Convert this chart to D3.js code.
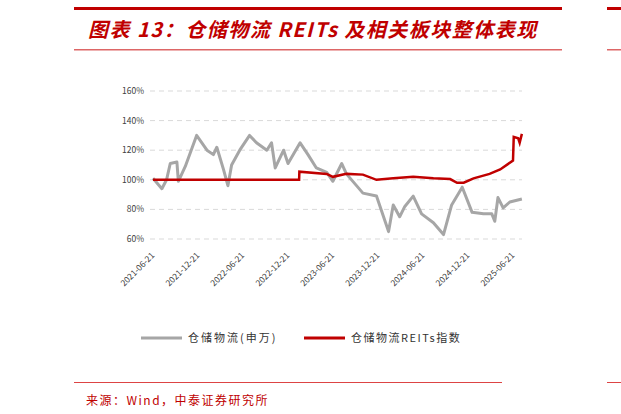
<!DOCTYPE html>
<html><head><meta charset="utf-8">
<script src="https://cdn.jsdelivr.net/npm/d3@7"></script>
<style>body{margin:0;background:#fff}text{font-family:"Noto Sans CJK SC","Liberation Sans",sans-serif}</style>
</head><body><svg id="c" width="621" height="414"></svg>
<script>
// gray series: 仓储物流(申万)
var grayDates = ["2021-06-21","2021-07-27","2021-08-15","2021-08-30","2021-09-26","2021-10-02","2021-10-30","2021-12-15","2022-01-26","2022-02-21","2022-03-07","2022-04-03","2022-04-21","2022-05-06","2022-06-08","2022-07-18","2022-08-15","2022-09-26","2022-10-15","2022-10-30","2022-12-03","2022-12-21","2023-02-08","2023-03-12","2023-04-15","2023-05-27","2023-06-21","2023-07-27","2023-08-15","2023-10-21","2023-12-15","2024-02-02","2024-02-21","2024-03-18","2024-04-08","2024-05-12","2024-06-15","2024-08-02","2024-09-12","2024-10-15","2024-11-27","2025-01-06","2025-02-21","2025-03-27","2025-04-08","2025-04-21","2025-05-12","2025-06-08","2025-07-27"];
var grayVals = [101,94,100,111,112,99,109,130,120,117,122,107,96,110,120,130,125,120,125,108,120,111,125,117,108,105,99,111,104,91,89,65,83,75,82,89,77,71,63,83,95,78,77,77,72,88,81,85,87];
// red series: 仓储物流REITs指数
var redDates = ["2021-06-21","2023-02-04","2023-02-05","2023-05-27","2023-06-21","2023-08-15","2023-10-21","2023-12-15","2024-02-21","2024-05-12","2024-08-02","2024-10-09","2024-11-06","2024-12-03","2025-01-12","2025-03-18","2025-04-30","2025-06-21","2025-06-24","2025-07-12","2025-07-18","2025-07-27"];
var redVals = [100,100,105.5,104,102,104,103.5,100,101,102,101,100.5,98,98,101,104,107,113,129,128,125,131];
var yTicks = [60,80,100,120,140,160];
var xTicks = ["2021-06-21","2021-12-21","2022-06-21","2022-12-21","2023-06-21","2023-12-21","2024-06-21","2024-12-21","2025-06-21"];

var svg = d3.select("#c"), red = "#c00000", pt = d3.timeParse("%Y-%m-%d");
var x = d3.scaleTime().domain([pt("2021-06-21"), pt("2025-06-21")]).range([153, 513]);
var y = d3.scaleLinear().domain([60, 160]).range([239, 91]);

// header
svg.append("rect").attr("x",74).attr("y",7).attr("width",488).attr("height",3).attr("fill",red);
svg.append("rect").attr("x",74).attr("y",49).attr("width",488).attr("height",1.5).attr("fill","#d66");
svg.append("rect").attr("x",607).attr("y",7).attr("width",14).attr("height",3).attr("fill",red);
svg.append("rect").attr("x",607).attr("y",49).attr("width",14).attr("height",1.5).attr("fill","#d66");
svg.append("text").attr("x",88).attr("y",37).attr("fill",red).attr("font-size",20).attr("font-weight","bold")
  .attr("font-style","italic").attr("letter-spacing",1.5).text("图表 13：仓储物流 REITs 及相关板块整体表现");

// grid + y labels
svg.selectAll(".g").data(yTicks).enter().append("line")
  .attr("x1",150).attr("x2",522).attr("y1",d=>y(d)).attr("y2",d=>y(d))
  .attr("stroke","#d9d9d9").attr("stroke-dasharray","5,4");
svg.selectAll(".yl").data(yTicks).enter().append("text")
  .attr("x",144).attr("y",d=>y(d)+3).attr("text-anchor","end").attr("font-size",8.5).attr("fill","#404040")
  .text(d=>d+"%");
// x labels
svg.selectAll(".xl").data(xTicks).enter().append("text")
  .attr("transform",d=>"translate("+(x(pt(d))+2)+",256) rotate(-45)")
  .attr("text-anchor","end").attr("font-size",8.5).attr("fill","#404040").text(d=>d);

var line = d3.line().x(d=>x(d[0])).y(d=>y(d[1]));
svg.append("path").attr("d",line(grayDates.map((d,i)=>[pt(d),grayVals[i]])))
  .attr("fill","none").attr("stroke","#a6a6a6").attr("stroke-width",3).attr("stroke-linejoin","round");
svg.append("path").attr("d",line(redDates.map((d,i)=>[pt(d),redVals[i]])))
  .attr("fill","none").attr("stroke",red).attr("stroke-width",2.5);

// legend
svg.append("line").attr("x1",141).attr("x2",182).attr("y1",338).attr("y2",338).attr("stroke","#a6a6a6").attr("stroke-width",3);
svg.append("text").attr("x",188).attr("y",342).attr("font-size",11).attr("letter-spacing",2).attr("fill","#333").text("仓储物流(申万)");
svg.append("line").attr("x1",304).attr("x2",345).attr("y1",338).attr("y2",338).attr("stroke",red).attr("stroke-width",3);
svg.append("text").attr("x",351).attr("y",342).attr("font-size",11).attr("letter-spacing",1.5).attr("fill","#333").text("仓储物流REITs指数");

// footer
svg.append("rect").attr("x",74).attr("y",382).attr("width",428).attr("height",1).attr("fill","#d44");
svg.append("rect").attr("x",607).attr("y",382).attr("width",14).attr("height",1).attr("fill","#d44");
svg.append("text").attr("x",86).attr("y",405).attr("font-size",12).attr("letter-spacing",1.5).attr("fill",red).text("来源：Wind，中泰证券研究所");
</script></body></html>
